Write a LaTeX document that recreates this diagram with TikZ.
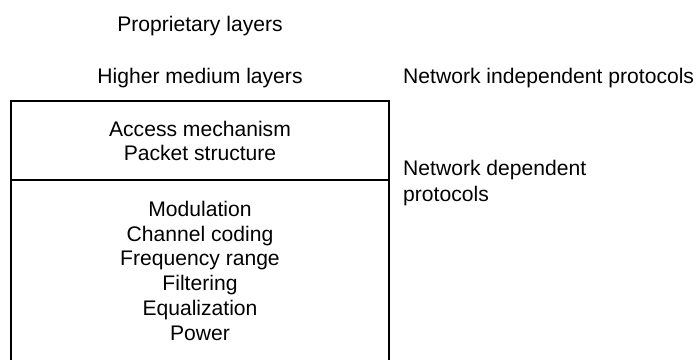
\documentclass[tikz,border=0pt]{standalone}
\usepackage{fontspec}
\setmainfont{Liberation Sans}
\begin{document}
\begin{tikzpicture}[x=1pt,y=-1pt,
  lbl/.style={anchor=base,inner sep=0pt,font=\fontsize{21.1}{25}\selectfont},
  lbll/.style={anchor=base west,inner sep=0pt,font=\fontsize{21.1}{25}\selectfont},
  frame/.style={line width=2pt,line cap=rect}]
\useasboundingbox (0,0) rectangle (698,359);
% layer box
\draw[frame] (11,365) -- (11,101) -- (388.5,101) -- (388.5,365);
\draw[frame] (11,180) -- (388.5,180);
% labels above
\node[lbl] (prop) at (200,31) {Proprietary layers};
\node[lbl] (higher) at (200,83) {Higher medium layers};
% upper compartment
\node[lbl] (acc) at (200,136) {Access mechanism};
\node[lbl] (pkt) at (200,160) {Packet structure};
% lower compartment
\node[lbl] (mod) at (200,216) {Modulation};
\node[lbl] (chc) at (200,241) {Channel coding};
\node[lbl] (frq) at (200,265.5) {Frequency range};
\node[lbl] (fil) at (200,290) {Filtering};
\node[lbl] (equ) at (200,315) {Equalization};
\node[lbl] (pow) at (200,340) {Power};
% right side
\node[lbll] (nip) at (403,83) {Network independent protocols};
\node[lbll] (ndp1) at (403,175) {Network dependent};
\node[lbll] (ndp2) at (403,201) {protocols};
\end{tikzpicture}
\end{document}
